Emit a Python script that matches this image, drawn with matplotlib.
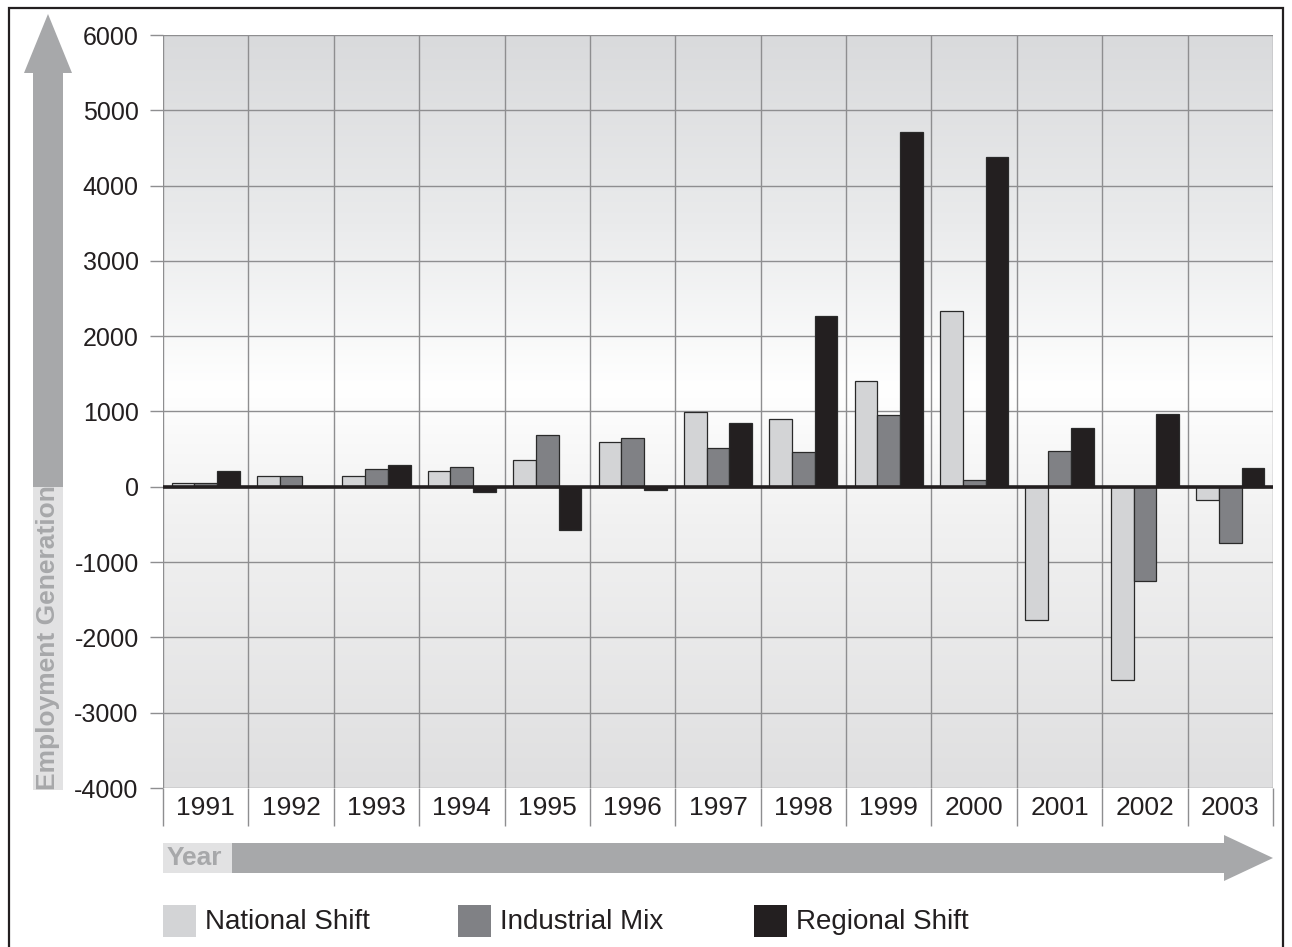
import numpy as np
import matplotlib.pyplot as plt
from matplotlib.colors import LinearSegmentedColormap
from matplotlib.patches import Polygon, Rectangle

# data
years = ["1991", "1992", "1993", "1994", "1995", "1996", "1997",
         "1998", "1999", "2000", "2001", "2002", "2003"]
national_shift = [50, 140, 140, 205, 355, 595, 990, 895, 1405, 2340, -1770, -2570, -175]
industrial_mix = [50, 140, 235, 262, 686, 646, 510, 457, 960, 85, 478, -1256, -748]
regional_shift = [208, 0, 292, -70, -580, -40, 842, 2270, 4710, 4378, 783, 965, 244]
series_names = ["National Shift", "Industrial Mix", "Regional Shift"]
series_colors = ["#d3d4d6", "#808185", "#231f20"]
yticks = [-4000, -3000, -2000, -1000, 0, 1000, 2000, 3000, 4000, 5000, 6000]

W, H = 1292, 947
narrow = ["Liberation Sans Narrow", "Liberation Sans", "DejaVu Sans"]
sans = ["Liberation Sans", "DejaVu Sans"]


def px(x, y):
    # pixel from top-left -> figure fraction
    return (x / W, 1 - y / H)


fig = plt.figure(figsize=(W / 100, H / 100), dpi=100)
fig.patch.set_facecolor("white")

left, top, right, bottom = 163, 35, 1273, 788
ax = fig.add_axes([left / W, 1 - bottom / H, (right - left) / W, (bottom - top) / H])

# background gradient
cmap = LinearSegmentedColormap.from_list(
    "bg", [(0.0, "#dfdfe0"), (0.35, "#f1f1f1"), (0.47, "#fafafa"),
           (0.53, "#ffffff"), (0.75, "#eaebec"), (1.0, "#d9dadc")])
grad = np.linspace(0, 1, 256).reshape(-1, 1)
ax.imshow(grad, aspect="auto", cmap=cmap, origin="lower",
          extent=[0, len(years), -4000, 6000], zorder=0)

x = np.arange(len(years)) + 0.5
w = 0.266
for i, (vals, color) in enumerate(zip([national_shift, industrial_mix, regional_shift], series_colors)):
    ax.bar(x + (i - 1) * w, vals, w, color=color, edgecolor="#2a2a2a",
           linewidth=0.9, zorder=2)

ax.axhline(0, color="#231f20", lw=2.6, zorder=3)

ax.set_xlim(0, len(years))
ax.set_ylim(-4000, 6000)
ax.set_yticks(yticks)
ax.set_yticklabels([str(v) for v in yticks], fontsize=18, family=sans, color="#231f20")
ax.set_xticks(np.arange(len(years) + 1))
ax.set_xticklabels([])
ax.set_xticks(x, minor=True)
ax.set_xticklabels(years, minor=True, fontsize=19, family=narrow, color="#231f20")
ax.tick_params(axis="x", which="major", length=27, color="#8e8e90", width=1)
ax.tick_params(axis="x", which="minor", length=0, pad=6)
ax.tick_params(axis="y", length=9.5, color="#8e8e90", width=1, pad=8)
ax.grid(True, color="#8e8e90", lw=1, zorder=1)
ax.set_axisbelow(True)
for s in ax.spines.values():
    s.set_visible(False)

# vertical arrow (Employment Generation)
ax_c = 48
up = Polygon([px(ax_c - 15, 487), px(ax_c - 15, 73), px(ax_c - 24, 73), px(ax_c, 14),
              px(ax_c + 24, 73), px(ax_c + 15, 73), px(ax_c + 15, 487)],
             closed=True, transform=fig.transFigure, facecolor="#a7a8aa", edgecolor="none")
fig.patches.append(up)
low = Rectangle(px(ax_c - 15, 790), 30 / W, (790 - 487) / H, transform=fig.transFigure,
                facecolor="#e2e2e3", edgecolor="none")
fig.patches.append(low)
fig.text(*px(ax_c, 790), "Employment Generation", rotation=90, ha="center", va="bottom",
         fontsize=19, fontweight="bold", family=narrow, color="#a7a8aa")

# horizontal arrow (Year)
yc = 858
right_arrow = Polygon([px(232, yc - 15), px(1224, yc - 15), px(1224, yc - 23), px(1273, yc),
                       px(1224, yc + 23), px(1224, yc + 15), px(232, yc + 15)],
                      closed=True, transform=fig.transFigure, facecolor="#a7a8aa", edgecolor="none")
fig.patches.append(right_arrow)
fig.patches.append(Rectangle(px(163, yc + 15), (232 - 163) / W, 30 / H, transform=fig.transFigure,
                             facecolor="#e2e2e3", edgecolor="none"))
fig.text(*px(167, yc), "Year", ha="left", va="center", fontsize=19, fontweight="bold",
         family=narrow, color="#a7a8aa")

# legend
for name, color, lx in zip(series_names, series_colors, [163, 458, 754]):
    fig.patches.append(Rectangle(px(lx, 937), 33 / W, 32 / H, transform=fig.transFigure,
                                 facecolor=color, edgecolor="none"))
    fig.text(*px(lx + 42, 922), name, ha="left", va="center", fontsize=20,
             family=narrow, color="#231f20")

# outer frame
fig.patches.append(Rectangle(px(9, 960), (1283 - 9) / W, (960 - 8) / H, transform=fig.transFigure,
                             facecolor="none", edgecolor="#231f20", lw=1.6))

fig.savefig("out.png", dpi=100)
